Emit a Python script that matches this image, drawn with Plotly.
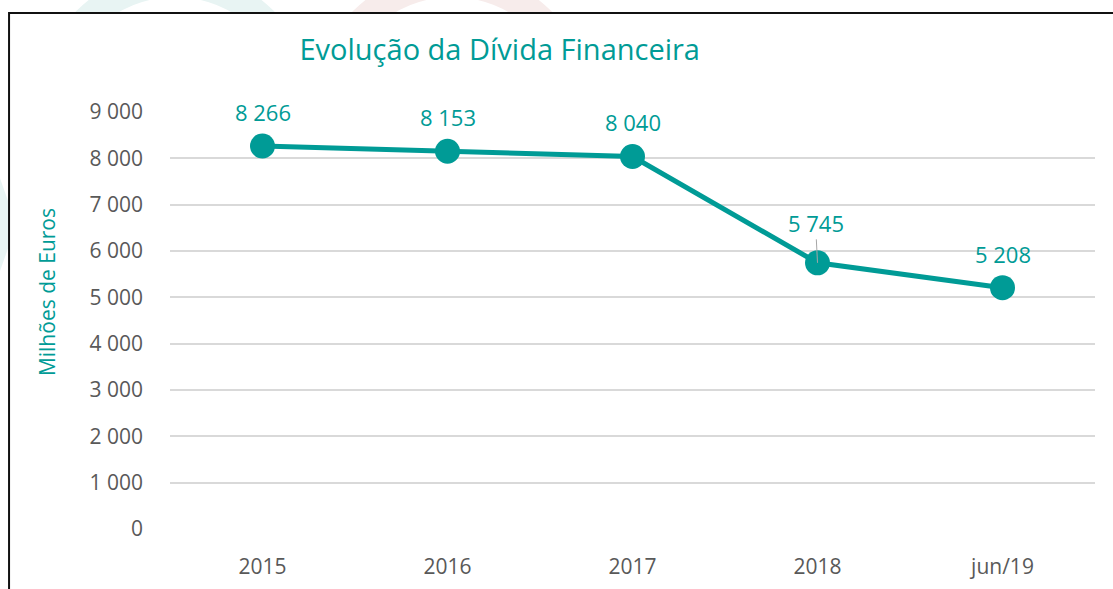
import plotly.graph_objects as go

categories = ["2015", "2016", "2017", "2018", "jun/19"]
values = [8266, 8153, 8040, 5745, 5208]
labels = ["8 266", "8 153", "8 040", "5 745", "5 208"]
tick_vals = [0, 1000, 2000, 3000, 4000, 5000, 6000, 7000, 8000, 9000]
tick_text = ["0", "1 000", "2 000", "3 000", "4 000", "5 000", "6 000", "7 000", "8 000", "9 000"]

TEAL = "#009B96"
GRAY = "#595959"
FONT = "Open Sans"

fig = go.Figure()
fig.add_trace(go.Scatter(
    x=categories, y=values, mode="lines+markers",
    line=dict(color=TEAL, width=5),
    marker=dict(color=TEAL, size=25),
    hoverinfo="skip", showlegend=False,
))

for i, (c, v, t) in enumerate(zip(categories, values, labels)):
    if c == "2018":
        fig.add_annotation(x=i, y=v, text=t, showarrow=True, ax=-2, ay=-40,
                           arrowhead=0, arrowwidth=1, arrowcolor="#A6A6A6", standoff=0,
                           font=dict(family=FONT, size=22, color=TEAL))
    else:
        fig.add_annotation(x=i, y=v, text=t, showarrow=False, yshift=34,
                           font=dict(family=FONT, size=22, color=TEAL))

# y axis title
fig.add_annotation(xref="paper", yref="paper", x=-0.133, y=0.568, text="Milhões de Euros",
                   textangle=-90, showarrow=False, xanchor="center", yanchor="middle",
                   font=dict(family=FONT, size=21, color=TEAL))

# decorative pale background shapes
fig.add_shape(type="circle", xref="paper", yref="paper", x0=-0.131, x1=0.142, y0=0.701, y1=1.308,
              line=dict(color="#E8F4F3", width=27), layer="below")
fig.add_shape(type="circle", xref="paper", yref="paper", x0=0.168, x1=0.442, y0=0.701, y1=1.308,
              line=dict(color="#F7ECEB", width=27), layer="below")
fig.add_shape(type="path", xref="paper", yref="paper",
              path="M -0.19 0.58 L -0.174 0.68 L -0.174 0.78 L -0.19 0.88 Z",
              fillcolor="#E8F4F3", line=dict(width=0), layer="below")
# border
fig.add_shape(type="rect", xref="paper", yref="paper", x0=-0.174, x1=1.2, y0=-0.3, y1=1.2374,
              line=dict(color="#111111", width=2), fillcolor="white", layer="below")

fig.update_layout(
    width=1113, height=589,
    margin=dict(l=170, r=18, t=112, b=60),
    paper_bgcolor="white", plot_bgcolor="rgba(0,0,0,0)",
    font=dict(family=FONT, color=GRAY, size=22),
    title=dict(text="Evolução da Dívida Financeira", x=0.449, xanchor="center",
               y=0.915, yanchor="middle",
               font=dict(family=FONT, size=29, color=TEAL)),
    xaxis=dict(type="category", range=[-0.5, 4.5], showgrid=False, zeroline=False,
               showline=False, ticks="", automargin=False, ticklabelstandoff=23,
               tickfont=dict(size=21, color=GRAY)),
    yaxis=dict(range=[0, 9000], tickvals=tick_vals, ticktext=tick_text,
               showgrid=True, gridcolor="#D9D9D9", gridwidth=1.5, zeroline=False,
               showline=False, ticks="", ticklabelstandoff=26, automargin=False,
               tickfont=dict(size=21, color=GRAY)),
)

fig.write_html("out.html", config={"displayModeBar": False},
               post_script="document.body.style.margin='0';document.body.style.overflow='hidden';")
